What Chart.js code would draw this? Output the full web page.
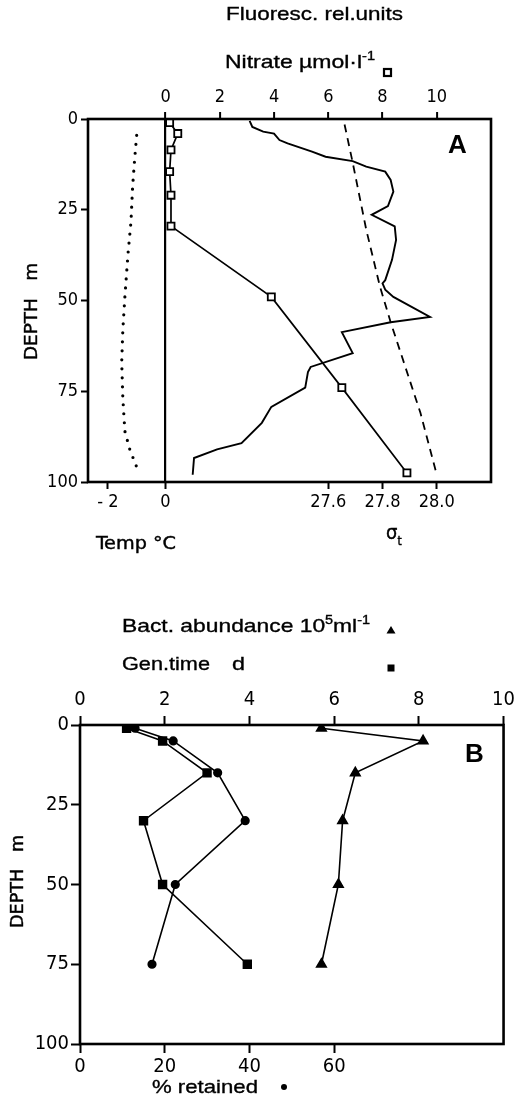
<!DOCTYPE html>
<html>
<head>
<meta charset="utf-8">
<script src="https://cdn.jsdelivr.net/npm/chart.js@4.4.0/dist/chart.umd.min.js"></script>
<style>
  body { margin: 0; background: #fff; }
  #wrap { position: relative; width: 519px; height: 1105px; }
  canvas { position: absolute; left: 0; }
</style>
</head>
<body>
<div id="wrap">
  <canvas id="chartA" width="519" height="560" style="top:0"></canvas>
  <canvas id="chartB" width="519" height="545" style="top:560px"></canvas>
</div>
<script>
// ---- Panel A: profiles against depth (m) ----
const nitrateDepth = [1, 4, 8.5, 14.5, 21, 29.5, 49, 74, 97.5];
const nitrate = [0.15, 0.45, 0.2, 0.15, 0.2, 0.2, 3.9, 6.5, 8.9];

const tempDepth = [4.5, 11, 18.5, 28.5, 37, 49, 58, 67, 77, 86, 91, 96.5];
const tempC = [-1.0, -1.07, -1.14, -1.2, -1.3, -1.41, -1.48, -1.52, -1.48, -1.41, -1.24, -0.97];

const sigmaDepth = [1.5, 12, 30.5, 46, 56, 81, 98];
const sigmaT = [27.66, 27.69, 27.74, 27.79, 27.83, 27.94, 28.0];

const fluorDepth = [0.5, 2.2, 3.5, 4, 5.8, 6.7, 9, 10.4, 11.6, 13.1, 14.5, 16.8, 20, 24, 26.4, 29.6, 33.3, 38.8, 44.4, 45.3,
                    47, 49, 54.5, 56, 58.7, 64.5, 68.3, 69.7, 74, 79.3, 83.7, 89.3, 91, 93.4, 98];
const fluor = [3.1, 3.2, 3.6, 4.0, 4.2, 4.5, 5.4, 5.9, 6.9, 7.4, 8.1, 8.3, 8.4, 8.2, 7.6, 8.45, 8.5, 8.35, 8.1, 8.0,
               8.1, 8.4, 9.75, 8.3, 6.5, 6.9, 5.35, 5.25, 5.15, 3.9, 3.55, 2.8, 1.9, 1.05, 1.0];

const depthTicks = [0, 25, 50, 75, 100];
const nitrateTicks = [0, 2, 4, 6, 8, 10];
const tempTicks = [-2, 0];
const tempTickLabels = ['- 2', '0'];
const sigmaTicks = [27.6, 27.8, 28.0];

// ---- Panel B: bacteria against depth (m) ----
const depthB = [1, 5, 15, 30, 50, 75];
const bactAbund = [5.7, 8.1, 6.5, 6.2, 6.1, 5.7];
const genTime = [1.1, 1.95, 3.0, 1.5, 1.95, 3.95];
const retained = [13, 22, 32.5, 39, 22.5, 17];

const topTicksB = [0, 2, 4, 6, 8, 10];
const retainedTicks = [0, 20, 40, 60];

// axis ranges (sigma-t shares the nitrate grid: 27.0 + n/10)
const nMin = -2.86, nMax = 12;
const sMin = 27 + nMin / 10, sMax = 27 + nMax / 10;
const tMin = -2.69, tMax = 11.3;
const tempToSigma = t => sMin + (t - tMin) / (tMax - tMin) * (sMax - sMin);

const SANS = '"Liberation Sans", Arial, sans-serif';
const COND = '"DejaVu Sans Condensed", "DejaVu Sans", sans-serif';

const pts = (xs, ys) => xs.map((x, i) => ({ x: x, y: ys[i] }));

// text with optional sup/sub runs, optionally stretched to a width
function drawRich(ctx, runs, x, y, o) {
  ctx.save();
  ctx.translate(x, y);
  if (o.rotate) ctx.rotate(o.rotate);
  const fontOf = r => (o.weight || 'normal') + ' ' + (r[1] ? Math.round(o.size * 0.62) : o.size) + 'px ' + o.family;
  let natural = 0;
  runs.forEach(r => { ctx.font = fontOf(r); natural += ctx.measureText(r[0]).width; });
  if (o.width) ctx.scale(o.width / natural, 1);
  ctx.fillStyle = '#000';
  ctx.strokeStyle = '#000';
  ctx.lineWidth = o.heavy || 0;
  ctx.textBaseline = 'alphabetic';
  ctx.textAlign = 'left';
  let cx = 0;
  runs.forEach(r => {
    ctx.font = fontOf(r);
    const dy = r[1] === 'sup' ? -o.size * 0.42 : (r[1] === 'sub' ? o.size * 0.28 : 0);
    ctx.fillText(r[0], cx, dy);
    if (o.heavy) ctx.strokeText(r[0], cx, dy);
    cx += ctx.measureText(r[0]).width;
  });
  ctx.restore();
}

const frame = {
  id: 'frame',
  afterDatasetsDraw(chart) {
    const { ctx, chartArea: a } = chart;
    ctx.save();
    ctx.lineWidth = 2.6;
    ctx.strokeStyle = '#000';
    ctx.strokeRect(a.left, a.top, a.right - a.left, a.bottom - a.top);
    ctx.restore();
  }
};

const labelsA = {
  id: 'labelsA',
  afterDraw(chart) {
    const ctx = chart.ctx;
    drawRich(ctx, [['Fluoresc. rel.units']], 226, 20, { size: 19, family: SANS, width: 177, heavy: 0.35 });
    drawRich(ctx, [['Nitrate µmol·l'], ['-1', 'sup']], 225, 68, { size: 19, family: SANS, width: 150, heavy: 0.35 });
    ctx.save();
    ctx.lineWidth = 2.2;
    ctx.strokeStyle = '#000';
    ctx.strokeRect(384, 69, 7, 7);
    ctx.restore();
    drawRich(ctx, [['Temp °C']], 96, 549, { size: 18, family: COND, width: 80, heavy: 0.4 });
    drawRich(ctx, [['σ'], ['t', 'sub']], 386, 539, { size: 20, family: COND, heavy: 0.4 });
    drawRich(ctx, [['A']], 448, 153, { size: 26, family: SANS, weight: 'bold' });
    drawRich(ctx, [['DEPTH   m']], 37, 360, { size: 17, family: COND, width: 97, rotate: -Math.PI / 2, heavy: 0.4 });
  }
};

const labelsB = {
  id: 'labelsB',
  afterDraw(chart) {
    const ctx = chart.ctx;
    drawRich(ctx, [['Bact. abundance 10'], ['5', 'sup'], ['ml'], ['-1', 'sup']], 122, 72, { size: 19, family: SANS, width: 248, heavy: 0.35 });
    drawRich(ctx, [['Gen.time']], 122, 110, { size: 19, family: SANS, width: 88, heavy: 0.35 });
    drawRich(ctx, [['d']], 232, 110, { size: 19, family: SANS, width: 13, heavy: 0.35 });
    drawRich(ctx, [['% retained']], 152, 533, { size: 19, family: SANS, width: 106, heavy: 0.35 });
    drawRich(ctx, [['B']], 465, 202, { size: 26, family: SANS, weight: 'bold' });
    drawRich(ctx, [['DEPTH   m']], 23, 368, { size: 17, family: COND, width: 93, rotate: -Math.PI / 2, heavy: 0.4 });
    ctx.save();
    ctx.fillStyle = '#000';
    ctx.beginPath();
    ctx.moveTo(391, 66); ctx.lineTo(395.5, 73.5); ctx.lineTo(386.5, 73.5); ctx.closePath();
    ctx.fill();
    ctx.fillRect(387.5, 104.5, 7, 7);
    ctx.beginPath();
    ctx.arc(284, 527, 3, 0, Math.PI * 2);
    ctx.fill();
    ctx.restore();
  }
};

const tickFontA = { family: COND, size: 18 };
const tickFontB = { family: COND, size: 20 };

new Chart(document.getElementById('chartA'), {
  type: 'scatter',
  data: {
    datasets: [
      { label: 'Temp', data: pts(tempC, tempDepth), xAxisID: 'xT', showLine: true,
        borderColor: '#000', borderWidth: 3.2, borderDash: [0, 9], borderCapStyle: 'round', pointRadius: 0 },
      { label: 'Sigma-t', data: pts(sigmaT, sigmaDepth), xAxisID: 'xS', showLine: true,
        borderColor: '#000', borderWidth: 1.8, borderDash: [8, 6], pointRadius: 0 },
      { label: 'Fluoresc.', data: pts(fluor, fluorDepth), xAxisID: 'xN', showLine: true,
        borderColor: '#000', borderWidth: 1.9, pointRadius: 0 },
      { label: 'Nitrate', data: pts(nitrate, nitrateDepth), xAxisID: 'xN', showLine: true,
        borderColor: '#000', borderWidth: 1.7, pointStyle: 'rect', pointRadius: 5,
        pointBackgroundColor: '#fff', pointBorderColor: '#000', pointBorderWidth: 1.8 }
    ]
  },
  options: {
    responsive: false,
    animation: false,
    devicePixelRatio: 1,
    events: [],
    layout: { padding: { left: 0, right: 28, top: 0, bottom: 0 } },
    plugins: { legend: { display: false }, tooltip: { enabled: false } },
    scales: {
      y: {
        type: 'linear', position: 'left', reverse: true, min: 0, max: 100,
        afterBuildTicks: s => { s.ticks = depthTicks.map(v => ({ value: v })); },
        ticks: { color: '#000', font: tickFontA, padding: 3 },
        grid: { drawOnChartArea: false, tickLength: 7, tickColor: '#000', tickWidth: 2 },
        border: { display: false },
        afterFit: s => { s.width = 88; }
      },
      xN: {
        type: 'linear', position: 'top', min: nMin, max: nMax,
        afterBuildTicks: s => { s.ticks = nitrateTicks.map(v => ({ value: v })); },
        ticks: { color: '#000', font: tickFontA, padding: 4, maxRotation: 0, autoSkip: false, callback: v => String(v) },
        grid: { color: c => (c.tick && c.tick.value === 0) ? '#000' : 'rgba(0,0,0,0)', lineWidth: 2.2,
                tickLength: 7, tickColor: '#000', tickWidth: 2 },
        border: { display: false },
        afterFit: s => { s.height = 119; }
      },
      xS: {
        type: 'linear', position: 'bottom', min: sMin, max: sMax,
        afterBuildTicks: s => { s.ticks = tempTicks.map(tempToSigma).concat(sigmaTicks).map(v => ({ value: v })); },
        ticks: { color: '#000', font: tickFontA, padding: 3, maxRotation: 0, autoSkip: false,
                 callback: (v, i) => tempTickLabels.concat(sigmaTicks.map(s => s.toFixed(1)))[i] },
        grid: { drawOnChartArea: false, tickLength: 7, tickColor: '#000', tickWidth: 2 },
        border: { display: false },
        afterFit: s => { s.height = 78; }
      },
      xT: { type: 'linear', display: false, min: tMin, max: tMax }
    }
  },
  plugins: [frame, labelsA]
});

new Chart(document.getElementById('chartB'), {
  type: 'scatter',
  data: {
    datasets: [
      { label: 'Bact. abundance', data: pts(bactAbund, depthB), xAxisID: 'xG', showLine: true,
        borderColor: '#000', borderWidth: 1.6, pointStyle: 'triangle', pointRadius: 5.5,
        pointBackgroundColor: '#000', pointBorderColor: '#000' },
      { label: 'Gen.time', data: pts(genTime, depthB), xAxisID: 'xG', showLine: true,
        borderColor: '#000', borderWidth: 1.6, pointStyle: 'rect', pointRadius: 5.5,
        pointBackgroundColor: '#000', pointBorderColor: '#000' },
      { label: '% retained', data: pts(retained, depthB), xAxisID: 'xR', showLine: true,
        borderColor: '#000', borderWidth: 1.6, pointStyle: 'circle', pointRadius: 3.8,
        pointBackgroundColor: '#000', pointBorderColor: '#000' }
    ]
  },
  options: {
    responsive: false,
    animation: false,
    devicePixelRatio: 1,
    events: [],
    layout: { padding: { left: 0, right: 12, top: 0, bottom: 0 } },
    plugins: { legend: { display: false }, tooltip: { enabled: false } },
    scales: {
      y: {
        type: 'linear', position: 'left', reverse: true, min: 0, max: 100,
        afterBuildTicks: s => { s.ticks = depthTicks.map(v => ({ value: v })); },
        ticks: { color: '#000', font: tickFontB, padding: 2 },
        grid: { drawOnChartArea: false, tickLength: 9, tickColor: '#000', tickWidth: 2 },
        border: { display: false },
        afterFit: s => { s.width = 80; }
      },
      xG: {
        type: 'linear', position: 'top', min: 0, max: 10,
        afterBuildTicks: s => { s.ticks = topTicksB.map(v => ({ value: v })); },
        ticks: { color: '#000', font: tickFontB, padding: 4, maxRotation: 0, autoSkip: false, callback: v => String(v) },
        grid: { drawOnChartArea: false, tickLength: 9, tickColor: '#000', tickWidth: 2 },
        border: { display: false },
        afterFit: s => { s.height = 165; }
      },
      xR: {
        type: 'linear', position: 'bottom', min: 0, max: 100,
        afterBuildTicks: s => { s.ticks = retainedTicks.map(v => ({ value: v })); },
        ticks: { color: '#000', font: tickFontB, padding: 2, maxRotation: 0, autoSkip: false, callback: v => String(v) },
        grid: { drawOnChartArea: false, tickLength: 9, tickColor: '#000', tickWidth: 2 },
        border: { display: false },
        afterFit: s => { s.height = 61; }
      }
    }
  },
  plugins: [frame, labelsB]
});
</script>
</body>
</html>
